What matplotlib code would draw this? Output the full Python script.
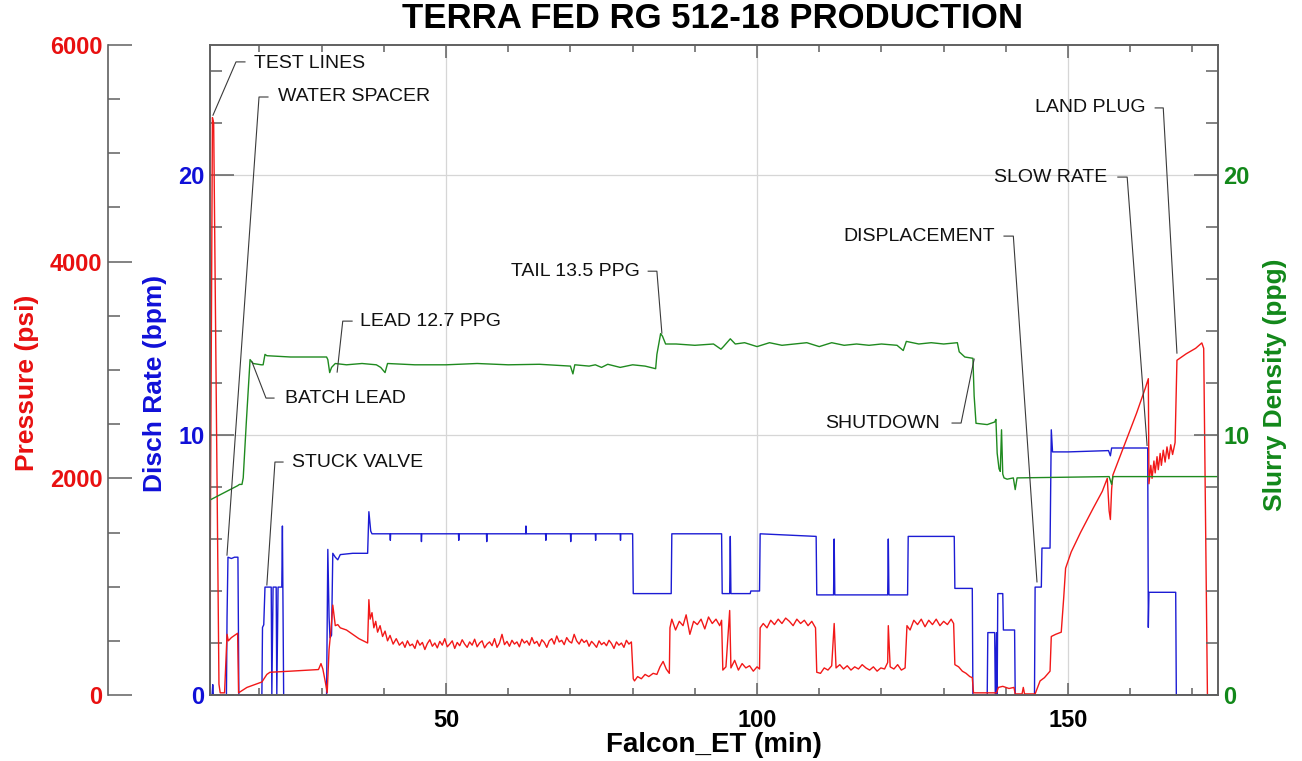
import matplotlib
matplotlib.use("Agg")
import matplotlib.pyplot as plt
from matplotlib.ticker import MultipleLocator

# ---------------- data ----------------
# pressure (psi), in three pieces
p_time_a = [12.06, 12.45, 12.65, 13.5, 13.7, 14.4, 14.8, 15.0, 15.5, 16.5, 16.65, 18.0, 20.4, 21.2, 21.7, 25.0,
            29.5, 29.9, 30.2, 30.6, 30.9, 31.2, 31.5, 31.8, 32.2, 32.6, 33.0, 34.0, 35.0, 36.0, 37.4, 37.6, 37.8,
            38.1, 38.4, 38.7, 39.0, 39.4, 39.8, 40.2, 40.6, 41.0, 41.5, 42.0, 42.5]
p_val_a = [800, 5330, 5280, 100, 20, 20, 560, 500, 530, 570, 20, 70, 120, 190, 210, 220,
           235, 290, 240, 120, 20, 420, 600, 830, 640, 650, 620, 600, 560, 520, 480, 880, 700,
           760, 620, 680, 580, 640, 540, 590, 500, 550, 470, 520, 460]
p_time_b = [43.0, 43.4, 43.8, 44.2, 44.6, 45.0, 45.4, 45.8, 46.2, 46.6, 47.0, 47.4, 47.8, 48.2, 48.6, 49.0,
            49.4, 49.8, 50.2, 50.6, 51.0, 51.4, 51.8, 52.2, 52.6, 53.0, 53.4, 53.8, 54.2, 54.6, 55.0, 55.4,
            55.8, 56.2, 56.6, 57.0, 57.4, 57.8, 58.2, 58.6, 59.0, 59.4, 59.8, 60.2, 60.6, 61.0, 61.4, 61.8,
            62.2, 62.6, 63.0, 63.4, 63.8, 64.2, 64.6, 65.0, 65.4, 65.8, 66.2, 66.6, 67.0, 67.4, 67.8, 68.2,
            68.6, 69.0, 69.4, 69.8, 70.2, 70.6, 71.0, 71.4, 71.8, 72.2, 72.6, 73.0, 73.4, 73.8, 74.2, 74.6,
            75.0, 75.4, 75.8, 76.2, 76.6, 77.0, 77.4, 77.8, 78.2, 78.6, 79.0, 79.4, 79.8]
p_val_b = [490, 440, 500, 455, 470, 430, 505, 460, 485, 420,
           475, 510, 450, 480, 435, 495, 460, 520, 445, 470,
           500, 430, 485, 455, 510, 470, 440, 490, 460, 515,
           445, 480, 500, 435, 470, 490, 455, 520, 440, 480,
           560, 465, 495, 450, 505, 470, 490, 445, 515, 480,
           500, 460, 530, 475, 495, 450, 510, 485, 440, 500,
           520, 470, 545, 490, 505, 465, 530, 495, 480, 560,
           500, 470, 515, 485, 505, 450, 495, 470, 440, 500,
           465, 485, 455, 505, 475, 430, 490, 460, 480, 440,
           505, 470, 490]
p_time_c = [80.1, 80.3, 80.8, 81.4, 82.0, 82.6, 83.3, 83.9, 84.4, 84.9, 85.4, 85.9, 86.0,
            86.3, 86.9, 87.5, 88.1, 88.6, 89.2, 89.8, 90.4, 91.0, 91.6, 92.2, 92.8, 93.4, 94.0, 94.3, 94.5, 95.0,
            95.6, 95.8, 96.4, 97.0, 97.6, 98.2, 98.8, 99.4, 100.0, 100.4, 100.5,
            101.0, 101.6, 102.2, 102.8, 103.4, 104.0, 104.6, 105.2, 105.8, 106.4, 107.0, 107.6, 108.2, 108.8,
            109.4, 109.6, 110.2, 110.8, 111.4, 112.0, 112.4, 112.7, 113.3, 113.9, 114.5, 115.1, 115.7, 116.3,
            116.9, 117.5, 118.1, 118.7, 119.3, 119.9, 120.5, 121.0, 121.1, 121.4, 122.0, 122.6, 123.2, 123.8,
            124.1, 124.6, 125.2, 125.8, 126.4, 127.0, 127.6, 128.2, 128.8, 129.4, 130.0, 130.6, 131.2, 131.6,
            131.8, 132.4, 133.0, 133.6, 134.2, 134.6, 134.8, 138.5, 138.8, 139.5, 140.5, 141.3, 141.5, 142.6,
            142.8, 143.0, 144.7, 145.5, 146.2, 147.1, 147.3, 148.0, 148.9, 149.3, 149.6, 150.5, 152.0, 154.0,
            155.5, 156.3, 156.6, 156.8, 157.0, 157.2, 159.0, 161.0, 162.4, 162.9, 163.0, 163.3, 163.5, 163.8,
            164.0, 164.3, 164.5, 164.8, 165.0, 165.3, 165.6, 165.9, 166.2, 166.5, 166.8, 167.2, 167.5, 169.0,
            170.5, 171.5, 171.8, 172.4]
p_val_c = [150, 130, 170, 150, 190, 170, 200, 190, 260, 310, 240, 200, 620,
           700, 600, 680, 640, 740, 560, 680, 650, 700, 610, 720, 660, 700, 640, 690, 230, 260,
           780, 250, 320, 230, 290, 250, 270, 220, 260, 240, 620,
           660, 620, 690, 650, 700, 660, 710, 680, 640, 700, 660, 690, 640, 680,
           620, 210, 200, 250, 230, 270, 660, 250, 280, 240, 270, 230, 260, 240,
           280, 250, 230, 260, 220, 250, 240, 300, 640, 260, 240, 280, 230, 250,
           640, 600, 690, 650, 700, 630, 690, 650, 700, 640, 680, 650, 700, 660,
           280, 260, 220, 200, 170, 160, 20, 20, 70, 80, 60, 70, 10, 10,
           70, 10, 10, 130, 160, 220, 540, 560, 580, 900, 1170, 1320, 1500, 1720,
           1880, 2000, 1700, 1620, 1900, 2030, 2300, 2600, 2830, 2920, 1950, 2120, 2000, 2160,
           2050, 2200, 2080, 2230, 2120, 2260, 2150, 2290, 2180, 2310, 2220, 2330, 3090, 3150,
           3200, 3250, 3200, 0]
p_time = p_time_a + p_time_b + p_time_c
pressure = p_val_a + p_val_b + p_val_c

# discharge rate (bpm)
r_time = [12.06, 12.4, 12.5, 12.6, 14.7, 14.8, 14.95, 15.5, 16.0, 16.55, 16.7, 20.4, 20.5, 20.7, 20.9,
          21.9, 22.0, 22.2, 22.7, 22.8, 23.0, 23.6, 23.7, 23.9, 30.8, 31.0, 31.2, 31.35, 31.6, 31.8, 32.2,
          32.6, 33.0, 35.0, 37.4, 37.6, 37.9, 38.1,
          41.0, 41.05, 41.1, 46.0, 46.05, 46.1, 52.0, 52.05, 52.1, 56.5, 56.55, 56.6, 62.8, 62.85, 62.9,
          66.0, 66.05, 66.1, 70.0, 70.05, 70.1, 74.0, 74.05, 74.1, 78.0, 78.05, 78.1,
          80.0, 80.1, 86.2,
          86.3, 94.3, 94.4, 95.6, 95.7, 95.8, 98.9, 99.0, 100.4, 100.5, 109.5, 109.6, 112.3, 112.4, 112.5,
          121.0, 121.1, 121.2, 124.2, 124.3, 131.7, 131.8, 134.6, 134.7, 137.0, 137.1, 138.2, 138.3, 138.5,
          138.6, 138.7, 139.5, 139.6, 141.4, 141.5, 144.6, 144.7, 145.7, 145.8, 147.1, 147.3, 147.5, 150.0,
          156.5, 156.8, 157.0, 162.8, 162.9, 163.0, 167.3, 167.4, 174.1]
rate = [0, 0, 0.4, 0, 0, 3.0, 5.3, 5.25, 5.3, 5.3, 0, 0, 2.6, 2.7, 4.15,
        4.15, 0, 4.15, 4.15, 0, 4.15, 4.15, 6.5, 0, 0, 5.6, 3.0, 2.2, 2.3, 5.45, 5.3,
        5.2, 5.4, 5.45, 5.45, 7.05, 6.3, 6.2,
        6.2, 5.95, 6.2, 6.2, 5.9, 6.2, 6.2, 5.95, 6.2, 6.2, 5.9, 6.2, 6.2, 6.5, 6.2,
        6.2, 5.95, 6.2, 6.2, 5.9, 6.2, 6.2, 5.95, 6.2, 6.2, 5.95, 6.2,
        6.2, 3.9, 3.9,
        6.2, 6.2, 3.9, 3.9, 6.1, 3.9, 3.9, 4.0, 4.0, 6.2, 6.1, 3.85, 3.85, 6.0, 3.85,
        3.85, 6.0, 3.85, 3.85, 6.1, 6.1, 4.1, 4.1, 0, 0, 2.4, 2.4, 0, 2.4,
        0, 3.9, 3.9, 2.5, 2.5, 0, 0, 4.15, 4.15, 5.65, 5.65, 10.2, 9.35, 9.35,
        9.4, 9.2, 9.5, 9.5, 2.6, 3.95, 3.95, 0, 0]

# slurry density (ppg)
d_time = [12.06, 16.5, 16.8, 17.2, 17.4, 17.9, 18.5, 19.0, 20.3, 20.6, 20.9, 21.2, 25.0, 30.8, 31.0, 31.3,
          31.6, 32.2, 34.0, 36.5, 38.8, 39.5, 40.2, 40.6, 45.0, 50.0, 55.0, 60.0, 65.0, 70.0, 70.4, 70.7,
          73.0, 74.0, 75.0, 76.0, 78.0, 80.0, 82.0, 83.7, 83.9, 84.5, 84.8, 85.3, 87.0, 90.0, 93.0, 94.2,
          94.6, 95.7, 96.5, 98.0, 100.0, 102.0, 104.0, 106.0, 108.0, 110.0, 112.0, 114.0, 116.0, 118.0,
          120.0, 122.5, 123.5, 124.0, 126.0, 128.0, 130.0, 132.2, 132.5, 133.4, 134.7, 134.9, 135.2, 137.0,
          138.2, 138.4, 138.6, 138.9, 139.1, 139.3, 139.5, 139.7, 140.2, 141.2, 141.5, 141.8, 156.6, 157.0,
          157.2, 174.1]
density = [7.5, 8.05, 8.1, 8.1, 8.35, 10.5, 12.9, 12.75, 12.7, 12.7, 13.1, 13.05, 13.0, 13.0, 12.9, 12.4,
           12.6, 12.75, 12.7, 12.75, 12.7, 12.6, 12.4, 12.75, 12.7, 12.7, 12.75, 12.7, 12.72, 12.65, 12.35, 12.7,
           12.65, 12.7, 12.6, 12.72, 12.6, 12.7, 12.65, 12.55, 13.1, 13.9, 13.8, 13.5, 13.5, 13.45, 13.5, 13.3,
           13.4, 13.7, 13.5, 13.55, 13.4, 13.55, 13.45, 13.5, 13.55, 13.4, 13.55, 13.45, 13.5, 13.45,
           13.5, 13.45, 13.25, 13.6, 13.5, 13.55, 13.5, 13.55, 13.2, 13.0, 12.95, 11.5, 10.45, 10.4,
           10.5, 10.6, 9.3, 8.7, 8.6, 10.2, 8.5, 8.35, 8.3, 8.35, 7.9, 8.35, 8.4, 8.1,
           8.4, 8.4]

# annotation labels: text, text anchor (time, value), alignment, leader path (times, values)
notes = [
    ("TEST LINES",    (19.1, 24.3),  "left",  [17.68, 16.24, 12.54], [24.35, 24.35, 22.3]),
    ("WATER SPACER",  (23.0, 23.0),  "left",  [21.38, 19.94, 14.79], [23.0, 23.0, 5.38]),
    ("BATCH LEAD",    (24.1, 11.42), "left",  [22.35, 21.06, 18.81], [11.42, 11.42, 12.81]),
    ("LEAD 12.7 PPG", (36.2, 14.38), "left",  [34.9, 33.4, 32.5],    [14.38, 14.38, 12.42]),
    ("STUCK VALVE",   (25.2, 8.96),  "left",  [23.8, 22.5, 21.2],    [8.96, 8.96, 4.23]),
    ("TAIL 13.5 PPG", (81.2, 16.3),  "right", [82.5, 83.9, 84.7],    [16.3, 16.3, 13.92]),
    ("DISPLACEMENT",  (138.3, 17.65), "right", [139.7, 141.2, 145.0], [17.65, 17.65, 4.35]),
    ("SLOW RATE",     (156.3, 19.92), "right", [158.0, 159.5, 162.7], [19.92, 19.92, 9.6]),
    ("LAND PLUG",     (162.4, 22.58), "right", [164.0, 165.3, 167.5], [22.58, 22.58, 13.15]),
    ("SHUTDOWN",      (129.4, 10.46), "right", [131.35, 132.8, 134.9], [10.46, 10.46, 12.92]),
]

# ---------------- styling ----------------
plt.rcParams['font.family'] = ['Liberation Sans', 'DejaVu Sans']
RED, BLUE, GREEN = '#f21818', '#1c1cd4', '#1f8a1f'
RED_T, BLUE_T, GREEN_T = '#e81010', '#1010d8', '#12881a'
SPINE = '#606060'

W, H = 1302, 761
fig = plt.figure(figsize=(W / 100, H / 100), dpi=100)
L, R, T, B = 210, 1218, 45, 695
rect = [L / W, 1 - B / H, (R - L) / W, (B - T) / H]
ax = fig.add_axes(rect)
ax_p = ax.twinx()
ax_d = ax.twinx()

ax.set_xlim(12.06, 174.1)
ax.set_ylim(0, 25)
ax_d.set_ylim(0, 25)
ax_p.set_ylim(0, 6000)

# lines
ax_p.plot(p_time, pressure, color=RED, lw=1.0)
ax.plot(r_time, rate, color=BLUE, lw=1.0)
ax_d.plot(d_time, density, color=GREEN, lw=1.0)

# grid
ax.xaxis.set_major_locator(MultipleLocator(50))
ax.xaxis.set_minor_locator(MultipleLocator(10))
ax.yaxis.set_major_locator(MultipleLocator(10))
ax.yaxis.set_minor_locator(MultipleLocator(2))
ax.grid(True, which='major', color='#d6d6d6', lw=0.9)
ax.set_axisbelow(True)

# spines
for a in (ax, ax_p, ax_d):
    for s in a.spines.values():
        s.set_color(SPINE)
        s.set_linewidth(1.2)
for s in ('right', 'top', 'bottom'):
    ax_p.spines[s].set_visible(False)
ax_p.spines['left'].set_visible(True)
ax_p.spines['left'].set_position(('axes', -(L - 108) / (R - L)))
ax_p.yaxis.set_ticks_position('left')
ax_p.yaxis.set_label_position('left')

# ticks
ax.tick_params(axis='x', which='major', direction='in', length=9, width=1.1, color=SPINE,
               top=True, bottom=True, labelsize=17, pad=10)
ax.tick_params(axis='x', which='minor', direction='in', length=5, width=1.1, color=SPINE,
               top=True, bottom=True)
ax.tick_params(axis='y', which='major', direction='in', length=17, width=1.1, color=SPINE,
               left=True, right=False, labelsize=17, labelcolor=BLUE_T, pad=4)
ax.tick_params(axis='y', which='minor', direction='in', length=8.5, width=1.1, color=SPINE,
               left=True, right=False)
for lab in ax.get_xticklabels():
    lab.set_fontweight('bold')
for lab in ax.get_yticklabels():
    lab.set_fontweight('bold')

ax_d.yaxis.set_major_locator(MultipleLocator(10))
ax_d.yaxis.set_minor_locator(MultipleLocator(2))
ax_d.tick_params(axis='y', which='major', direction='in', length=17, width=1.1, color=SPINE,
                 labelsize=17, labelcolor=GREEN_T, pad=4)
ax_d.tick_params(axis='y', which='minor', direction='in', length=8.5, width=1.1, color=SPINE)
for lab in ax_d.get_yticklabels():
    lab.set_fontweight('bold')

ax_p.yaxis.set_major_locator(MultipleLocator(2000))
ax_p.yaxis.set_minor_locator(MultipleLocator(500))
ax_p.tick_params(axis='y', which='major', direction='in', length=17, width=1.1, color=SPINE,
                 labelsize=17, labelcolor=RED_T, pad=4, left=True, right=False)
ax_p.tick_params(axis='y', which='minor', direction='in', length=8.5, width=1.1, color=SPINE,
                 left=True, right=False)
for lab in ax_p.get_yticklabels():
    lab.set_fontweight('bold')

# titles
fig.text(713 / W, 1 - 19 / H, "TERRA FED RG 512-18 PRODUCTION", ha='center', va='center',
         fontsize=25, fontweight='bold')
fig.text(714 / W, 1 - 745 / H, "Falcon_ET (min)", ha='center', va='center',
         fontsize=20, fontweight='bold')
fig.text(27 / W, 1 - 383 / H, "Pressure (psi)", ha='center', va='center', rotation=90,
         fontsize=19, fontweight='bold', color=RED_T)
fig.text(155 / W, 1 - 383 / H, "Disch Rate (bpm)", ha='center', va='center', rotation=90,
         fontsize=19, fontweight='bold', color=BLUE_T)
fig.text(1275 / W, 1 - 385 / H, "Slurry Density (ppg)", ha='center', va='center', rotation=90,
         fontsize=19, fontweight='bold', color=GREEN_T)

# annotations
for text, (tx, ty), ha, lx, ly in notes:
    ax_d.plot(lx, ly, color='#3a3a3a', lw=0.8, clip_on=False)
    ax_d.text(tx, ty, text, ha=ha, va='center', fontsize=14, color='#111111')

fig.savefig("out.png", dpi=100)
